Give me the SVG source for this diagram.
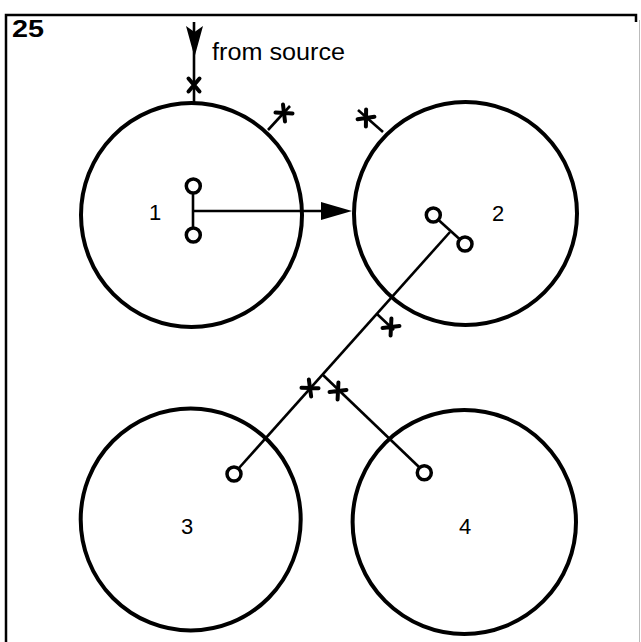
<svg xmlns="http://www.w3.org/2000/svg" width="641" height="642" viewBox="0 0 641 642">
<style>
.tank{fill:none;stroke:#000;stroke-width:4}
.port{fill:#fff;stroke:#000;stroke-width:3.5}
.pipe{fill:none;stroke:#000;stroke-width:2.6}
.valve{fill:none;stroke:#000;stroke-width:4;stroke-linecap:round}
.lbl{font-family:"Liberation Sans",Arial,sans-serif;font-size:22px;fill:#000}
.frame{fill:none;stroke:#000;stroke-width:2.5}
</style>
<defs>
<g id="vmark"><path class="valve" d="M-5.5,-6.5 L5.5,6.5 M-5.5,6.5 L5.5,-6.5"/></g>
</defs>
<rect width="641" height="642" fill="#fff"/>
<g id="frame">
<path class="frame" d="M6,645 V15 H636 V22"/>
<path d="M639.5,20 V642" fill="none" stroke="#bbb" stroke-width="1"/>
<text x="12" y="37" font-family="Liberation Sans,Arial,sans-serif" font-weight="bold" font-size="24" textLength="32" lengthAdjust="spacingAndGlyphs">25</text>
</g>
<g id="connectors">
<!-- from source -->
<line class="pipe" x1="194" y1="22" x2="194" y2="103"/>
<polygon points="186,26 194.5,32 203,26 194.5,57" fill="#000"/>
<use href="#vmark" transform="translate(194,85)"/>
<text class="lbl" x="212" y="60" style="font-size:23px" textLength="133" lengthAdjust="spacingAndGlyphs">from source</text>
<!-- circle 1 stub -->
<line class="pipe" x1="268" y1="130" x2="290" y2="106"/>
<use href="#vmark" transform="translate(284,113) rotate(-47)"/>
<!-- circle 2 stub -->
<line class="pipe" x1="383" y1="132" x2="358" y2="110"/>
<use href="#vmark" transform="translate(366,118) rotate(41)"/>
<!-- 1 to 2 -->
<line class="pipe" x1="193" y1="193" x2="193" y2="228"/>
<line class="pipe" x1="193" y1="211" x2="330" y2="211"/>
<polygon points="321,202 352,211 321,220" fill="#000"/>
<!-- 2 inner -->
<line class="pipe" x1="433" y1="215" x2="465" y2="244"/>
<!-- 2 to 3 -->
<line class="pipe" x1="450" y1="232" x2="239" y2="468"/>
<use href="#vmark" transform="translate(310,388) rotate(-48)"/>
<!-- stub near 2 -->
<line class="pipe" x1="377" y1="314" x2="394" y2="330"/>
<use href="#vmark" transform="translate(391,327) rotate(43)"/>
<!-- branch to 4 -->
<line class="pipe" x1="323" y1="375" x2="419" y2="467"/>
<use href="#vmark" transform="translate(338,391) rotate(43)"/>
</g>
<g id="tank1">
<ellipse class="tank" cx="191.5" cy="215" rx="110.5" ry="112"/>
<circle class="port" cx="193.3" cy="186" r="7"/>
<circle class="port" cx="193.3" cy="235" r="7"/>
<text class="lbl" x="155" y="220" text-anchor="middle">1</text>
</g>
<g id="tank2">
<ellipse class="tank" cx="465.5" cy="213.5" rx="111.5" ry="111.5"/>
<circle class="port" cx="433.3" cy="215" r="7"/>
<circle class="port" cx="465" cy="244" r="7"/>
<text class="lbl" x="498" y="221" text-anchor="middle">2</text>
</g>
<g id="tank3">
<ellipse class="tank" cx="190.7" cy="519.5" rx="110" ry="111"/>
<circle class="port" cx="234" cy="474" r="7"/>
<text class="lbl" x="187" y="534" text-anchor="middle">3</text>
</g>
<g id="tank4">
<ellipse class="tank" cx="464.3" cy="522" rx="111.7" ry="112"/>
<circle class="port" cx="424.3" cy="472.7" r="7"/>
<text class="lbl" x="465" y="534" text-anchor="middle">4</text>
</g>
</svg>
